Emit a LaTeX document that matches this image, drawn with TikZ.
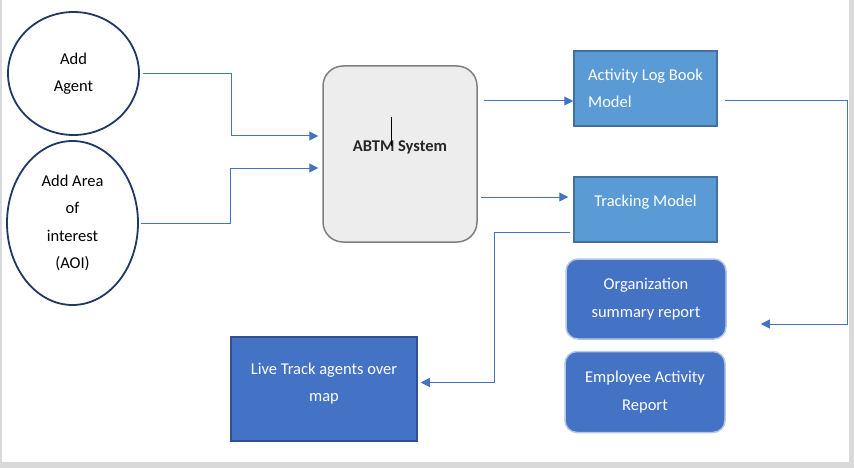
\documentclass[tikz,border=0pt]{standalone}
\usepackage{fontspec}
\setmainfont{Carlito}
\usepackage{tikz}
\usetikzlibrary{shapes}
\usetikzlibrary{arrows.meta}
\definecolor{link}{HTML}{4472C4}
\definecolor{navy}{HTML}{1F3864}
\definecolor{sysfill}{HTML}{EDEDED}
\definecolor{sysline}{HTML}{7F7F7F}
\definecolor{systext}{HTML}{262626}
\definecolor{modelfill}{HTML}{5B9BD5}
\definecolor{modelline}{HTML}{41719C}
\definecolor{reportline}{HTML}{B4C7E7}
\definecolor{liveline}{HTML}{2F528F}
\definecolor{frame}{HTML}{D9D9D9}
\tikzstyle{input}=[ellipse,draw=navy,line width=1.8pt,inner sep=0pt,align=center,font=\fontsize{16.5}{27.5}\selectfont]
\tikzstyle{system}=[rectangle,rounded corners=20pt,draw=sysline,fill=sysfill,line width=1.5pt,minimum width=154pt,minimum height=176pt,text depth=16.5pt,text=systext,font=\bfseries\fontsize{16.5}{27}\selectfont]
\tikzstyle{model}=[rectangle,draw=modelline,fill=modelfill,line width=1.5pt,minimum width=143pt,text=white,align=left,font=\fontsize{16.5}{27}\selectfont]
\tikzstyle{report}=[rectangle,rounded corners=12pt,draw=reportline,fill=link,line width=1.5pt,minimum width=160pt,minimum height=80pt,text=white,align=center,font=\fontsize{16.5}{28}\selectfont]
\tikzstyle{live}=[rectangle,draw=liveline,fill=link,line width=1.5pt,minimum width=186pt,minimum height=104pt,text depth=13.5pt,text=white,align=center,font=\fontsize{16.5}{27}\selectfont]
\tikzstyle{flow}=[->,>={Triangle[length=9pt,width=9pt]},draw=link,line width=1pt]

\begin{document}
\begin{tikzpicture}[x=1pt,y=-1pt]
      \fill[frame] (0,0) rectangle (854,468);
      \fill[white] (2,0) rectangle (849,462);
      \node[input,minimum width=131pt,minimum height=123pt] at (73.5,73.5) (agent) {Add\\Agent};
      \node[input,minimum width=131pt,minimum height=164pt] at (72.5,223) (aoi) {Add Area\\of\\interest\\(AOI)};
      \node[system] at (400,154) (abtm) {ABTM System};
      \draw[line width=0.6pt] (391,117) -- (391,146);
      \node[model,minimum height=75pt] at (645.5,88.5) (log) {Activity Log Book\\Model};
      \node[model,minimum height=65pt,text depth=16.5pt] at (645.5,209.5) (track) {Tracking Model};
      \node[report] at (646,299) (org) {Organization\\summary report};
      \node[report,minimum height=81pt] at (645,392) (emp) {Employee Activity\\Report};
      \node[live] at (324,389) (map) {Live Track agents over\\map};
      \draw[flow,shorten <=3pt,shorten >=4pt] (agent.east) -- ++(92,0) |- ([yshift=18pt]abtm.west);
      \draw[flow,shorten <=2pt,shorten >=4pt] (aoi.east) -- ++(92,0) |- ([yshift=-14pt]abtm.west);
      \draw[flow,shorten <=6pt] ([yshift=53pt]abtm.east) -- ([yshift=-12.5pt]log.west);
      \draw[flow,shorten <=3pt,shorten >=5pt] ([yshift=-43pt]abtm.east) -- ([yshift=12.5pt]track.west);
      \draw[flow,shorten <=7pt,shorten >=34pt] ([yshift=-12.5pt]log.east) -- ++(130,0) |- ([yshift=-25pt]org.east);
      \draw[flow,shorten <=3pt,shorten >=3pt] ([yshift=-22.5pt]track.west) -- ++(-79,0) |- ([yshift=6.5pt]map.east);
    \end{tikzpicture}
\end{document}
